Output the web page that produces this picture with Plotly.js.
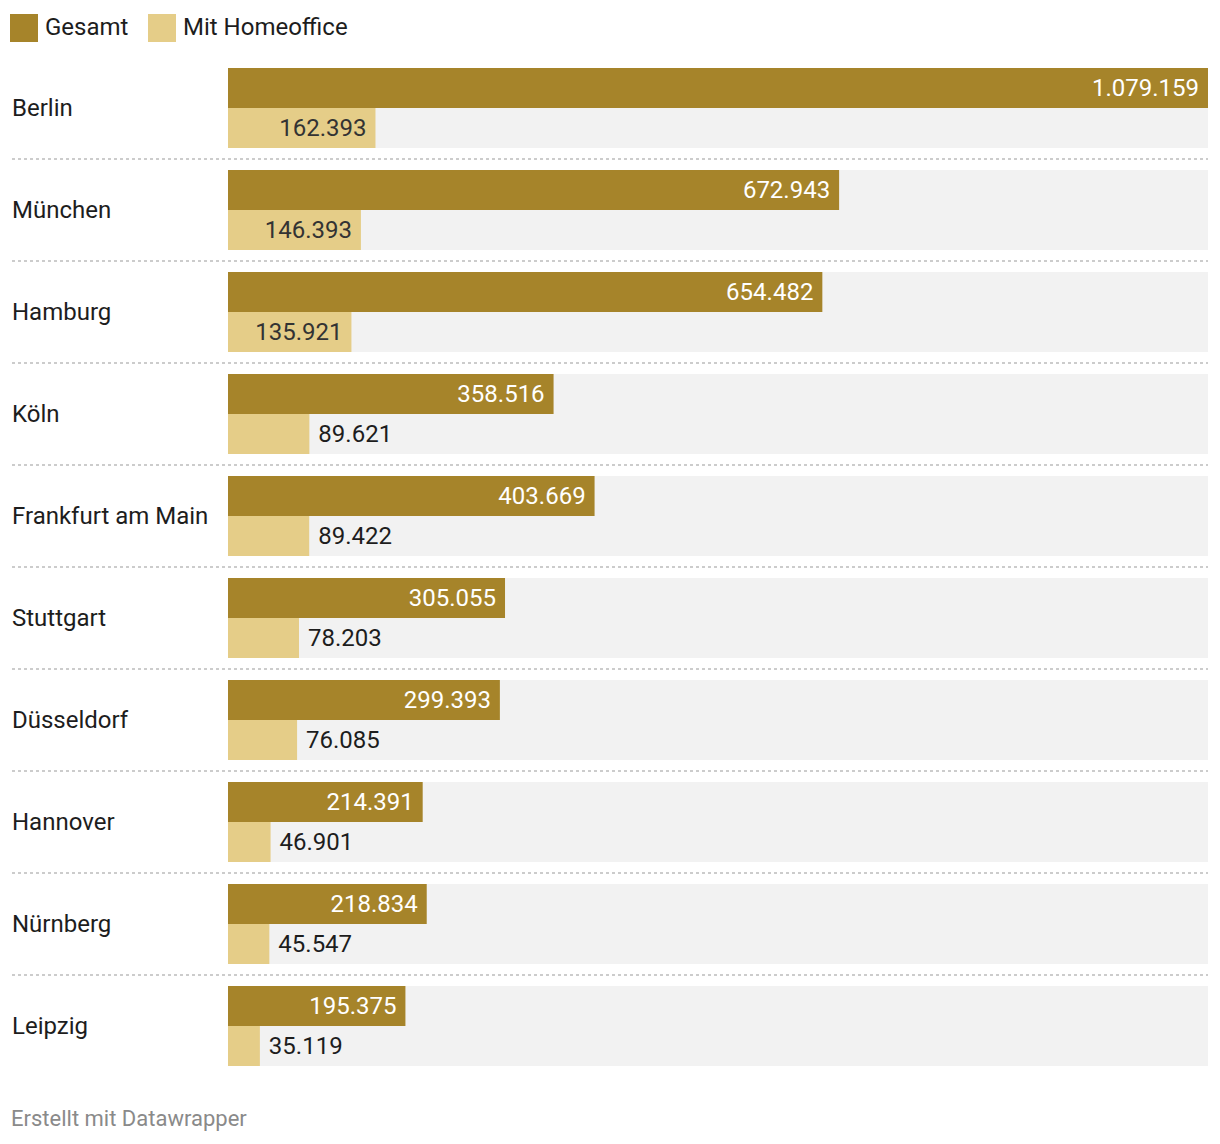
<!DOCTYPE html>
<html>
<head>
<meta charset="utf-8">
<script src="https://cdn.plot.ly/plotly-3.0.1.min.js"></script>
<style>
html,body{margin:0;padding:0;background:#fff;}
#chart{width:1220px;height:1144px;}
</style>
</head>
<body>
<div id="chart"></div>
<script>
const cities = ["Berlin","München","Hamburg","Köln","Frankfurt am Main","Stuttgart","Düsseldorf","Hannover","Nürnberg","Leipzig"];
const gesamt = [1079159,672943,654482,358516,403669,305055,299393,214391,218834,195375];
const homeoffice = [162393,146393,135921,89621,89422,78203,76085,46901,45547,35119];
const seriesNames = ["Gesamt","Mit Homeoffice"];
const footerText = "Erstellt mit Datawrapper";

const colDark = "#a6842a";
const colLight = "#e5cd88";
const colBg = "#f2f2f2";
const FONT = "Roboto, 'Open Sans', sans-serif";
const FS = 24;

const xmax = Math.max(...gesamt);
const W = 1220, H = 1144;
const mL = 228, mR = 12, mT = 57, mB = 67;
const plotW = W - mL - mR;

const hoPos = homeoffice.map(v => v >= 100000 ? "inside" : "outside");
const hoTpl = hoPos.map(p => p === "inside" ? "%{x:,.0f}\u00a0" : "\u00a0%{x:,.0f}");

const traces = [
  {
    type: "bar", orientation: "h", y: cities, x: cities.map(() => xmax),
    marker: {color: colBg}, hoverinfo: "skip", showlegend: false,
    xaxis: "x", yaxis: "y"
  },
  {
    type: "bar", orientation: "h", name: seriesNames[0], y: cities, x: gesamt,
    marker: {color: colDark}, textposition: "inside", insidetextanchor: "end",
    texttemplate: "%{x:,.0f}\u00a0", textfont: {family: FONT, size: FS, color: "#ffffff"},
    insidetextfont: {family: FONT, size: FS, color: "#ffffff"},
    showlegend: false, xaxis: "x", yaxis: "y2", cliponaxis: false
  },
  {
    type: "bar", orientation: "h", name: seriesNames[1], y: cities, x: homeoffice,
    marker: {color: colLight}, textposition: hoPos, insidetextanchor: "end",
    texttemplate: hoTpl,
    insidetextfont: {family: FONT, size: FS, color: "#333333"},
    outsidetextfont: {family: FONT, size: FS, color: "#1d1d1d"},
    showlegend: false, xaxis: "x", yaxis: "y2", cliponaxis: false
  }
];

const shapes = [];
for (let i = 0; i < cities.length - 1; i++) {
  shapes.push({
    type: "line", xref: "paper", yref: "y",
    x0: -(mL - 12) / plotW, x1: 1, y0: i + 0.5, y1: i + 0.5,
    line: {color: "#cccccc", width: 2, dash: "dot"}
  });
}
// legend squares
const legendItems = [
  {name: seriesNames[0], color: colDark, x: 10},
  {name: seriesNames[1], color: colLight, x: 148}
];
const annotations = [];
legendItems.forEach(it => {
  shapes.push({
    type: "rect", xref: "paper", yref: "paper",
    x0: (it.x - mL) / plotW, x1: (it.x + 28 - mL) / plotW,
    y0: 1 + (mT - 14) / (H - mT - mB), y1: 1 + (mT - 42) / (H - mT - mB),
    fillcolor: it.color, line: {width: 0}
  });
  annotations.push({
    xref: "paper", yref: "paper", x: (it.x + 33 - mL) / plotW, xanchor: "left",
    y: 1 + (mT - 27) / (H - mT - mB), yanchor: "middle",
    text: it.name, showarrow: false, font: {family: FONT, size: FS, color: "#1d1d1d"}
  });
});
cities.forEach(c => {
  annotations.push({
    xref: "paper", yref: "y", x: -(mL - 10) / plotW, xanchor: "left", y: c, yanchor: "middle",
    text: c, showarrow: false, font: {family: FONT, size: FS, color: "#1d1d1d"}
  });
});
annotations.push({
  xref: "paper", yref: "paper", x: -(mL - 9) / plotW, xanchor: "left",
  y: -(1118 - (H - mB)) / (H - mT - mB), yanchor: "middle",
  text: footerText, showarrow: false, font: {family: FONT, size: 22, color: "#8a8a8a"}
});

const layout = {
  width: W, height: H,
  margin: {l: mL, r: mR, t: mT, b: mB},
  paper_bgcolor: "#ffffff", plot_bgcolor: "#ffffff",
  barmode: "group", bargap: 22 / 102, bargroupgap: 0,
  separators: ",.",
  font: {family: FONT, size: FS, color: "#1d1d1d"},
  showlegend: false,
  xaxis: {range: [0, xmax], visible: false, fixedrange: true},
  yaxis: {type: "category", categoryorder: "array", categoryarray: cities,
          autorange: "reversed", showticklabels: false, showgrid: false, zeroline: false, fixedrange: true},
  yaxis2: {type: "category", categoryorder: "array", categoryarray: cities,
           autorange: "reversed", overlaying: "y", showticklabels: false, showgrid: false, zeroline: false, fixedrange: true},
  shapes: shapes,
  annotations: annotations
};

Plotly.newPlot("chart", traces, layout, {displayModeBar: false, staticPlot: true});
</script>
</body>
</html>
